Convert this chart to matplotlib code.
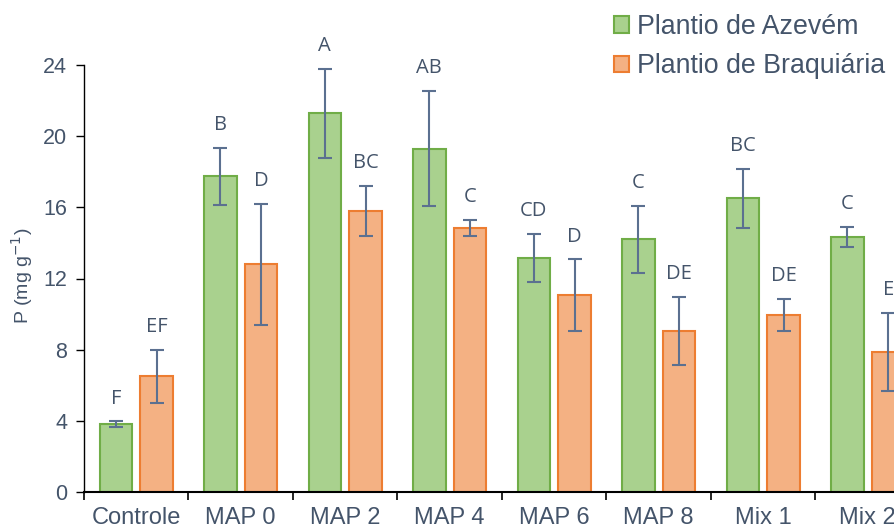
import matplotlib
matplotlib.use("Agg")
import matplotlib.pyplot as plt
import numpy as np

categories = ["Controle", "MAP 0", "MAP 2", "MAP 4", "MAP 6", "MAP 8", "Mix 1", "Mix 2"]
azevem = [3.82, 17.75, 21.3, 19.3, 13.15, 14.2, 16.5, 14.33]
azevem_err = [0.15, 1.6, 2.5, 3.25, 1.35, 1.9, 1.65, 0.55]
azevem_lbl = ["F", "B", "A", "AB", "CD", "C", "BC", "C"]
braq = [6.5, 12.8, 15.8, 14.83, 11.07, 9.05, 9.95, 7.85]
braq_err = [1.5, 3.4, 1.4, 0.45, 2.0, 1.9, 0.9, 2.2]
braq_lbl = ["EF", "D", "BC", "C", "D", "DE", "DE", "E"]
yticks = [0, 4, 8, 12, 16, 20, 24]

txt = "#44546A"
errc = "#5B7090"

fig = plt.figure(figsize=(8.95, 5.31), dpi=100)
ax = fig.add_axes([84/895, 39/531, 836/895, 427/531])

x = np.arange(len(categories))
w = 0.31
off = 0.195
ax.bar(x - off, azevem, w, color="#A9D18E", edgecolor="#70AD47", linewidth=1.5,
       label="Plantio de Azevém", zorder=2)
ax.bar(x + off, braq, w, color="#F4B183", edgecolor="#ED7D31", linewidth=1.5,
       label="Plantio de Braquiária", zorder=2)
ax.errorbar(x - off, azevem, yerr=azevem_err, fmt="none", ecolor=errc,
            elinewidth=1.5, capsize=5, capthick=1.5, zorder=3)
ax.errorbar(x + off, braq, yerr=braq_err, fmt="none", ecolor=errc,
            elinewidth=1.5, capsize=5, capthick=1.5, zorder=3)

for xi, v, e, l in zip(x - off, azevem, azevem_err, azevem_lbl):
    ax.text(xi, v + e + 1.0, l, ha="center", va="baseline", color=txt,
            fontsize=14.5, family="Open Sans")
for xi, v, e, l in zip(x + off, braq, braq_err, braq_lbl):
    ax.text(xi, v + e + 1.0, l, ha="center", va="baseline", color=txt,
            fontsize=14.5, family="Open Sans")

ax.set_xlim(-0.5, len(categories) - 0.5)
ax.set_ylim(0, 24)
ax.set_yticks(yticks)
ax.set_yticklabels([str(t) for t in yticks], color=txt, fontsize=15.5,
                   family="Liberation Sans")
ax.set_xticks(x)
ax.set_xticklabels(categories, color=txt, fontsize=17, family="Liberation Sans")
ax.set_xticks(np.arange(len(categories) + 1) - 0.5, minor=True)
ax.tick_params(axis="x", which="major", length=0, pad=11)
ax.tick_params(axis="x", which="minor", length=6, width=1.2, direction="out")
ax.tick_params(axis="y", length=6, width=1.0, direction="out", pad=6)
for s in ["top", "right"]:
    ax.spines[s].set_visible(False)
ax.spines["bottom"].set_linewidth(1.5)
ax.spines["left"].set_linewidth(1.0)

fig.text(22/895, 1 - 276/531, "P (mg g$^{-1}$)", rotation=90, ha="center",
         va="center", color=txt, fontsize=14, family="Liberation Sans")

leg = fig.legend(loc="upper left", bbox_to_anchor=(614/895, 1.0 - 14/531),
                 frameon=False, borderpad=0, borderaxespad=0,
                 handlelength=0.55, handleheight=0.55,
                 handletextpad=0.3, labelspacing=0.5,
                 prop={"family": "Liberation Sans", "size": 19.3})
for t in leg.get_texts():
    t.set_color(txt)

fig.savefig("out.png", dpi=100)
